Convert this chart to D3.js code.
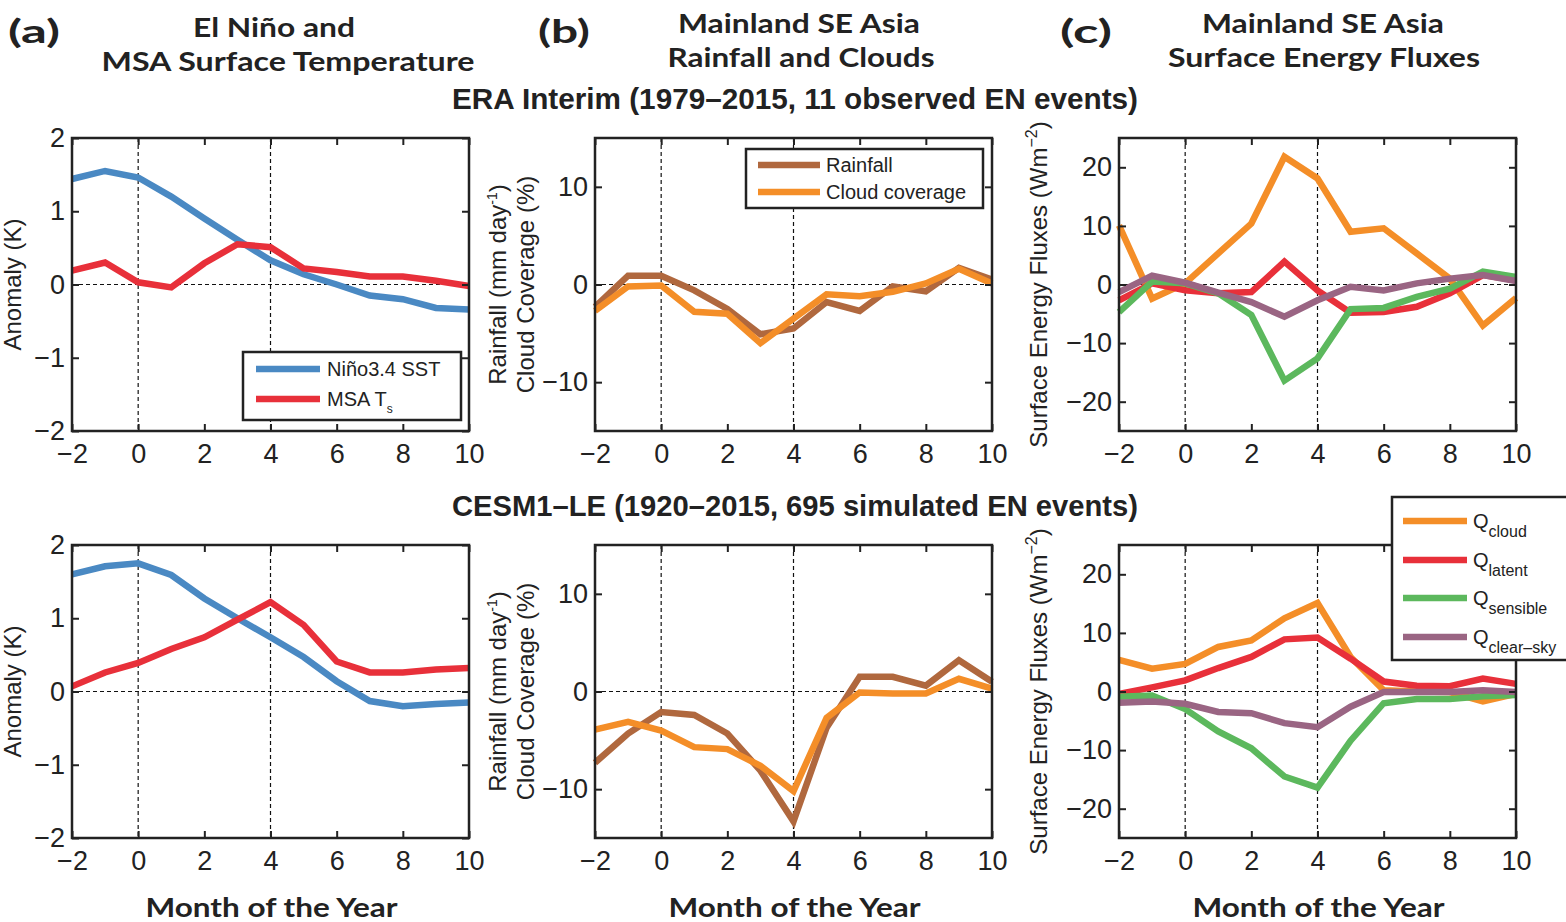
<!DOCTYPE html>
<html>
<head>
<meta charset="utf-8">
<script src="https://cdn.jsdelivr.net/npm/d3@7"></script>
<style>
  body { margin: 0; background: #fff; }
  svg { display: block; }
  .tick line { stroke: #222; stroke-width: 2; }
  .tick text { font-family: "Liberation Sans", Arial, sans-serif; font-size: 27px; fill: #222; }
</style>
</head>
<body>
<svg id="chart" width="1566" height="922"></svg>
<script>
// months relative to the El Nino peak
const months = d3.range(-2, 11);

// ERA Interim (observed)
const eraNino = [1.44, 1.55, 1.46, 1.2, 0.9, 0.61, 0.33, 0.14, 0.0, -0.15, -0.2, -0.32, -0.34];
const eraMsaTs = [0.19, 0.3, 0.03, -0.04, 0.29, 0.55, 0.51, 0.22, 0.17, 0.11, 0.11, 0.05, -0.02];
const eraRain = [-2.3, 0.9, 0.9, -0.6, -2.5, -5.1, -4.5, -1.8, -2.7, -0.2, -0.7, 1.7, 0.5];
const eraCloud = [-2.7, -0.2, -0.1, -2.8, -3.0, -6.0, -3.5, -1.0, -1.2, -0.75, 0.1, 1.6, 0.1];
const eraQcloud = [10.1, -2.4, 0.2, 5.3, 10.4, 21.8, 18.1, 9.0, 9.6, 5.3, 1.0, -7.0, -2.3];
const eraQlatent = [-2.7, 0.2, -1.0, -1.5, -1.3, 3.9, -1.0, -4.8, -4.7, -3.8, -1.5, 1.6, 0.7];
const eraQsensible = [-4.7, 0.5, 0.2, -1.5, -5.2, -16.4, -12.6, -4.2, -4.0, -2.1, -0.7, 2.2, 1.3];
const eraQclear = [-1.3, 1.5, 0.3, -1.4, -3.0, -5.5, -2.7, -0.4, -1.0, 0.2, 1.0, 1.6, 0.6];

// CESM1-LE (simulated)
const cesmNino = [1.6, 1.71, 1.75, 1.59, 1.27, 1.0, 0.74, 0.47, 0.14, -0.13, -0.2, -0.17, -0.15];
const cesmMsaTs = [0.07, 0.26, 0.39, 0.58, 0.74, 0.98, 1.22, 0.91, 0.41, 0.26, 0.26, 0.3, 0.32];
const cesmRain = [-7.3, -4.3, -2.1, -2.4, -4.3, -8.1, -13.3, -3.7, 1.5, 1.5, 0.6, 3.2, 1.0];
const cesmCloud = [-3.9, -3.1, -4.0, -5.7, -5.9, -7.6, -10.2, -2.7, -0.1, -0.2, -0.2, 1.3, 0.3];
const cesmQcloud = [5.4, 3.9, 4.7, 7.6, 8.7, 12.5, 15.1, 5.9, 0.2, 0.0, -0.1, -1.7, -0.4];
const cesmQlatent = [-0.4, 0.7, 1.9, 4.0, 5.9, 8.9, 9.2, 5.6, 1.7, 1.0, 0.9, 2.2, 1.3];
const cesmQsensible = [-0.9, -0.7, -3.0, -6.8, -9.7, -14.5, -16.4, -8.4, -2.0, -1.3, -1.3, -0.8, -0.6];
const cesmQclear = [-1.9, -1.7, -2.1, -3.5, -3.7, -5.4, -6.1, -2.6, -0.1, -0.1, -0.1, 0.2, -0.1];

// axis tick values
const xTicks = [-2, 0, 2, 4, 6, 8, 10];
const tempTicks = [-2, -1, 0, 1, 2];
const rainTicks = [-10, 0, 10];
const fluxTicks = [-20, -10, 0, 10, 20];

const colors = {
  nino: '#4a89c3', msa: '#e8303a', rain: '#b0683e', cloud: '#f48e28',
  qcloud: '#f48e28', qlatent: '#e8303a', qsens: '#5cb85d', qclear: '#9a6583'
};

const svg = d3.select('#chart');
const colLeft = [72, 595, 1119];
const rowTop = [138, 545];
const pw = 397, ph = 293;
const fmt = d3.format('~g');

const panels = [
  { col: 0, row: 0, domain: [-2, 2], ticks: tempTicks,
    series: [{ v: eraNino, c: colors.nino }, { v: eraMsaTs, c: colors.msa }] },
  { col: 1, row: 0, domain: [-15, 15], ticks: rainTicks,
    series: [{ v: eraRain, c: colors.rain }, { v: eraCloud, c: colors.cloud }] },
  { col: 2, row: 0, domain: [-25, 25], ticks: fluxTicks,
    series: [{ v: eraQcloud, c: colors.qcloud }, { v: eraQlatent, c: colors.qlatent },
             { v: eraQsensible, c: colors.qsens }, { v: eraQclear, c: colors.qclear }] },
  { col: 0, row: 1, domain: [-2, 2], ticks: tempTicks,
    series: [{ v: cesmNino, c: colors.nino }, { v: cesmMsaTs, c: colors.msa }] },
  { col: 1, row: 1, domain: [-15, 15], ticks: rainTicks,
    series: [{ v: cesmRain, c: colors.rain }, { v: cesmCloud, c: colors.cloud }] },
  { col: 2, row: 1, domain: [-25, 25], ticks: fluxTicks,
    series: [{ v: cesmQcloud, c: colors.qcloud }, { v: cesmQlatent, c: colors.qlatent },
             { v: cesmQsensible, c: colors.qsens }, { v: cesmQclear, c: colors.qclear }] }
];

panels.forEach(p => {
  const g = svg.append('g')
    .attr('transform', `translate(${colLeft[p.col]},${rowTop[p.row]})`);
  const x = d3.scaleLinear().domain([-2, 10]).range([0, pw]);
  const y = d3.scaleLinear().domain(p.domain).range([ph, 0]);

  // dashed reference lines
  [0, 4].forEach(m => {
    g.append('line')
      .attr('x1', x(m)).attr('x2', x(m)).attr('y1', 0).attr('y2', ph)
      .attr('stroke', '#111').attr('stroke-width', 1.2).attr('stroke-dasharray', '4,3');
  });
  g.append('line')
    .attr('x1', 0).attr('x2', pw).attr('y1', y(0)).attr('y2', y(0))
    .attr('stroke', '#111').attr('stroke-width', 1.2).attr('stroke-dasharray', '4,3');

  // data lines
  const line = d3.line().x((d, i) => x(months[i])).y(d => y(d));
  p.series.forEach(s => {
    g.append('path')
      .datum(s.v)
      .attr('d', line)
      .attr('fill', 'none')
      .attr('stroke', s.c)
      .attr('stroke-width', 6.5);
  });

  // axes with inward ticks on all sides
  g.append('g').attr('transform', `translate(0,${ph})`)
    .call(d3.axisBottom(x).tickValues(xTicks).tickFormat(fmt).tickSize(-7).tickPadding(13))
    .call(a => a.select('.domain').remove());
  g.append('g')
    .call(d3.axisTop(x).tickValues(xTicks).tickSize(-7).tickFormat(''))
    .call(a => a.select('.domain').remove());
  g.append('g')
    .call(d3.axisLeft(y).tickValues(p.ticks).tickFormat(fmt).tickSize(-7).tickPadding(7))
    .call(a => a.select('.domain').remove());
  g.append('g').attr('transform', `translate(${pw},0)`)
    .call(d3.axisRight(y).tickValues(p.ticks).tickSize(-7).tickFormat(''))
    .call(a => a.select('.domain').remove());

  g.append('rect')
    .attr('width', pw).attr('height', ph)
    .attr('fill', 'none').attr('stroke', '#222').attr('stroke-width', 2.5);
});

// y axis labels
const labelFont = '"Liberation Sans", Arial, sans-serif';
rowTop.forEach(top => {
  const cy = top + ph / 2;
  svg.append('text')
    .attr('transform', `translate(21,${cy}) rotate(-90)`)
    .attr('text-anchor', 'middle')
    .style('font-family', labelFont).style('font-size', '24px').attr('fill', '#222')
    .text('Anomaly (K)');

  const r = svg.append('text')
    .attr('transform', `translate(506,${cy}) rotate(-90)`)
    .attr('text-anchor', 'middle')
    .style('font-family', labelFont).style('font-size', '24px').attr('fill', '#222');
  r.append('tspan').text('Rainfall (mm day');
  r.append('tspan').attr('dy', -9).style('font-size', '14px').text('-1');
  r.append('tspan').attr('dy', 9).text(')');

  svg.append('text')
    .attr('transform', `translate(534,${cy}) rotate(-90)`)
    .attr('text-anchor', 'middle')
    .style('font-family', labelFont).style('font-size', '24px').attr('fill', '#222')
    .text('Cloud Coverage (%)');

  const f = svg.append('text')
    .attr('transform', `translate(1047,${cy}) rotate(-90)`)
    .attr('text-anchor', 'middle')
    .style('font-family', labelFont).style('font-size', '24px').attr('fill', '#222');
  f.append('tspan').text('Surface Energy Fluxes (Wm');
  f.append('tspan').attr('dy', -10).style('font-size', '16px').text('−2');
  f.append('tspan').attr('dy', 10).text(')');
});

// panel titles (wide geometric face approximated by stretching Lato)
const titleFont = 'Lato, "Open Sans", sans-serif';
const panelLetters = ['(a)', '(b)', '(c)'];
const titleLines = [
  ['El Niño and', 'MSA Surface Temperature'],
  ['Mainland SE Asia', 'Rainfall and Clouds'],
  ['Mainland SE Asia', 'Surface Energy Fluxes']
];
const titleWidths = [[162, 373], [242, 267], [242, 312]];
const letterX = [8, 538, 1060];
const titleCx = [[274, 288], [799, 801], [1323, 1324]];
const titleY = [[37, 71], [33, 67], [33, 67]];

function stretched(x, y, text, size, width, anchor) {
  return svg.append('text')
    .attr('x', x).attr('y', y)
    .attr('text-anchor', anchor)
    .attr('textLength', width).attr('lengthAdjust', 'spacingAndGlyphs')
    .style('font-family', titleFont).style('font-weight', 700).style('font-size', size + 'px')
    .attr('fill', '#222')
    .text(text);
}

panelLetters.forEach((t, i) => {
  stretched(letterX[i], 43, t, 32, 52, 'start');
  titleLines[i].forEach((line, j) => {
    stretched(titleCx[i][j], titleY[i][j], line, 26, titleWidths[i][j], 'middle');
  });
});

// row titles
const rowTitles = ['ERA Interim (1979–2015, 11 observed EN events)',
                   'CESM1–LE (1920–2015, 695 simulated EN events)'];
const rowTitleY = [109, 516];
rowTitles.forEach((t, i) => {
  svg.append('text')
    .attr('x', 795).attr('y', rowTitleY[i])
    .attr('text-anchor', 'middle')
    .attr('textLength', 686).attr('lengthAdjust', 'spacingAndGlyphs')
    .style('font-family', labelFont).style('font-weight', 700).style('font-size', '29px')
    .attr('fill', '#222')
    .text(t);
});

// x axis titles
colLeft.forEach(l => {
  stretched(l + pw / 2 + 1, 917, 'Month of the Year', 26, 252, 'middle');
});

// legends
function legend(x0, y0, w, h, items, lineX, textX, rowY, fontSize) {
  const g = svg.append('g').attr('transform', `translate(${x0},${y0})`);
  g.append('rect').attr('width', w).attr('height', h)
    .attr('fill', '#fff').attr('stroke', '#222').attr('stroke-width', 2.5);
  items.forEach((it, i) => {
    g.append('line')
      .attr('x1', lineX[0]).attr('x2', lineX[1]).attr('y1', rowY[i]).attr('y2', rowY[i])
      .attr('stroke', it.c).attr('stroke-width', 6.5);
    const t = g.append('text')
      .attr('x', textX).attr('y', rowY[i] + 7)
      .style('font-family', labelFont).style('font-size', fontSize + 'px').attr('fill', '#222');
    t.append('tspan').text(it.name);
    if (it.sub) {
      t.append('tspan').attr('dy', it.subDy).style('font-size', it.subSize + 'px').text(it.sub);
    }
  });
}

legend(243, 352, 218, 68, [
  { name: 'Niño3.4 SST', c: colors.nino },
  { name: 'MSA T', sub: 's', subDy: 7, subSize: 12, c: colors.msa }
], [13, 77], 84, [17, 47], 20);

legend(746, 149, 237, 59, [
  { name: 'Rainfall', c: colors.rain },
  { name: 'Cloud coverage', c: colors.cloud }
], [12, 74], 80, [16, 43], 20);

legend(1392, 497, 182, 163, [
  { name: 'Q', sub: 'cloud', subDy: 9, subSize: 16, c: colors.qcloud },
  { name: 'Q', sub: 'latent', subDy: 9, subSize: 16, c: colors.qlatent },
  { name: 'Q', sub: 'sensible', subDy: 9, subSize: 16, c: colors.qsens },
  { name: 'Q', sub: 'clear–sky', subDy: 9, subSize: 16, c: colors.qclear }
], [11, 75], 81, [24, 63, 101, 140], 20);
</script>
</body>
</html>
